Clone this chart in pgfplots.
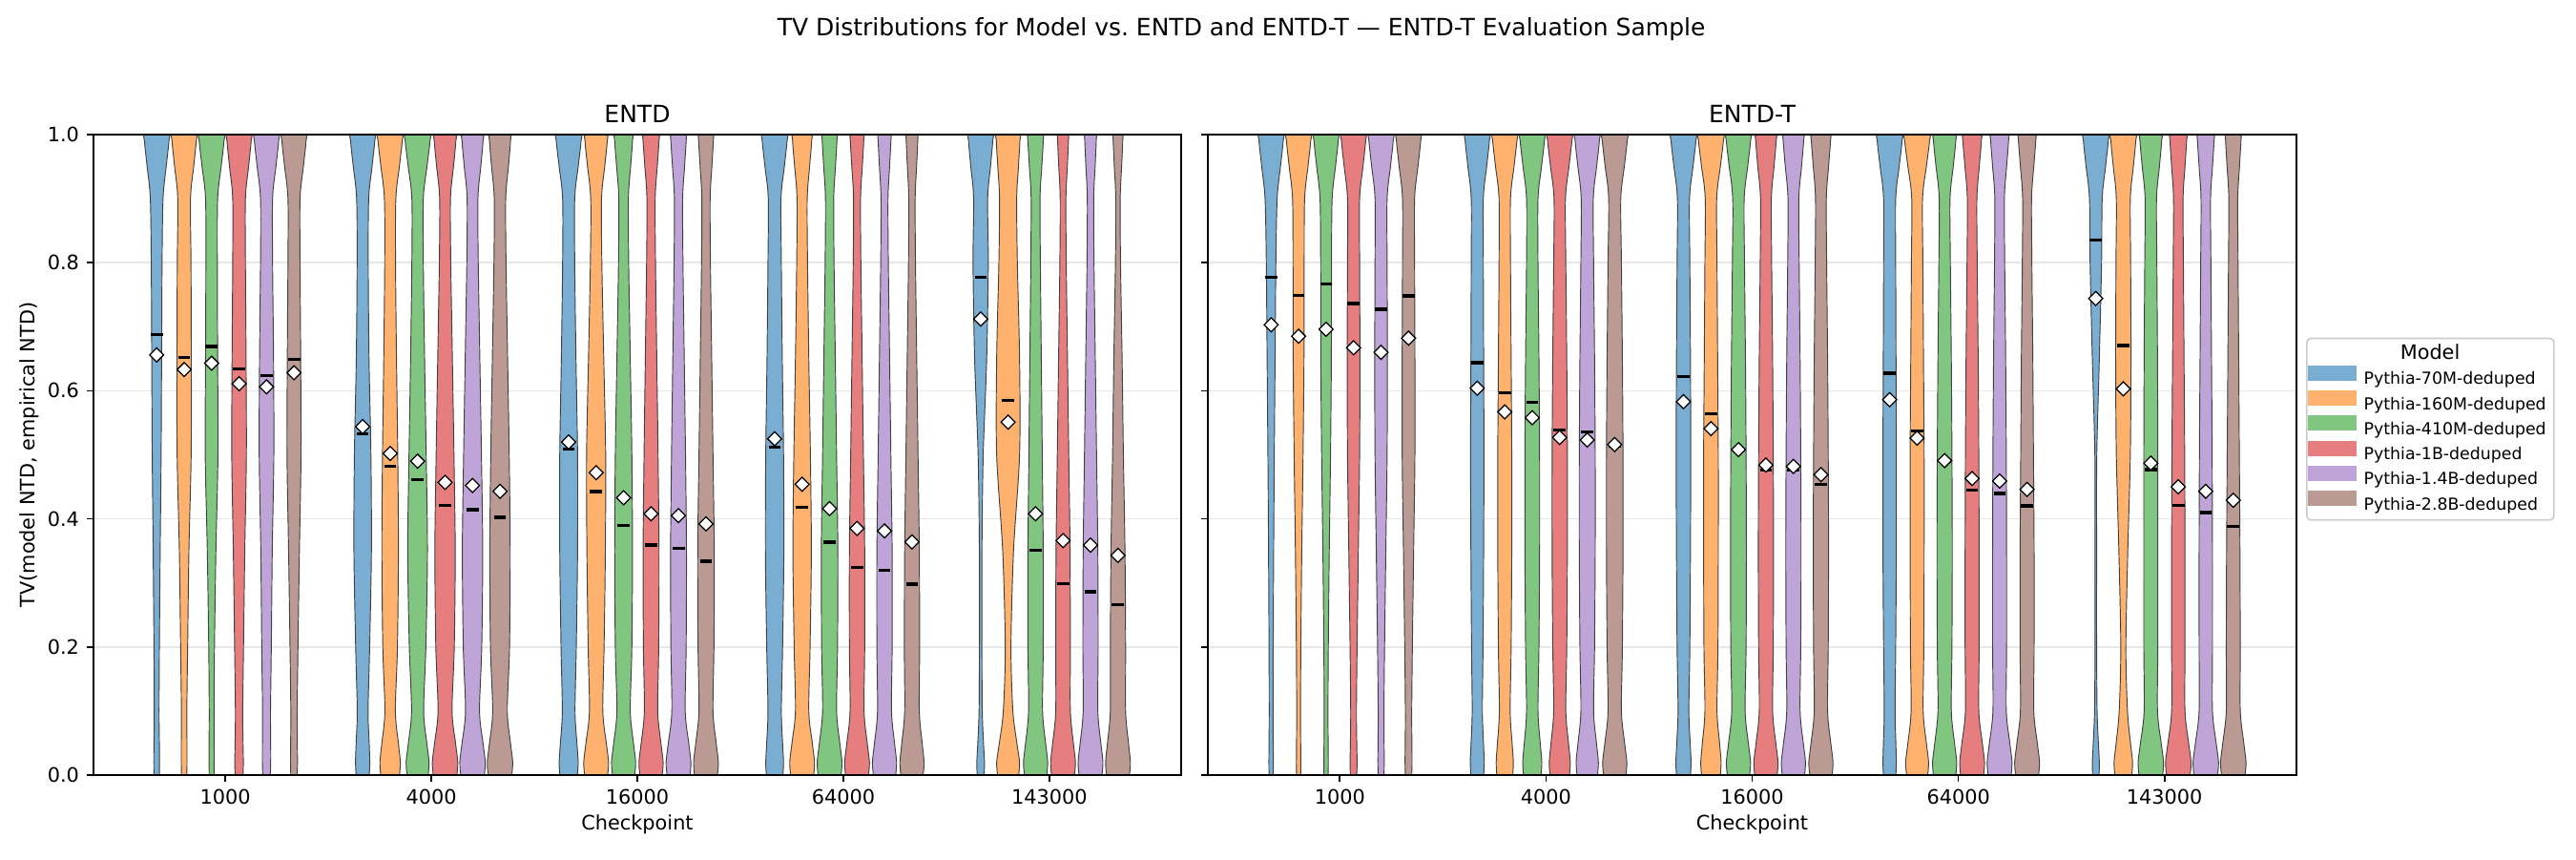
\documentclass[border=0pt]{standalone}
\usepackage{fontspec}
\setmainfont{DejaVu Sans}
\usepackage{pgfplots}
\pgfplotsset{compat=1.18}
\usepackage{pgfplotstable}

\definecolor{c0}{HTML}{1F77B4}
\definecolor{c1}{HTML}{FF7F0E}
\definecolor{c2}{HTML}{2CA02C}
\definecolor{c3}{HTML}{D62728}
\definecolor{c4}{HTML}{9467BD}
\definecolor{c5}{HTML}{8C564B}
\definecolor{gridgray}{RGB}{231,231,231}

% violin half-width scale (axis units per profile unit) and model spacing
\def\ws{0.000772}
\def\vsp{0.13333}

% violin outlines: width profile at level y; s = +1 right side (upwards),
% s = -1 left side (downwards). Columns a..e = checkpoints 1000 ... 143000,
% 1..6 = Pythia 70M ... 2.8B
\pgfplotstableread{
y    s  a1 a2 a3 a4 a5 a6  b1 b2 b3 b4 b5 b6  c1 c2 c3 c4 c5 c6  d1 d2 d3 d4 d5 d6  e1 e2 e3 e4 e5 e6
0     1 17 17 15 25 24 20  41 59 66 74 74 74  55 72 70 70 72 72  52 72 72 72 70 70  22 66 70 72 72 72
0.02  1 18 18 16 27 26 22  45 64 72 80 80 80  60 78 76 76 78 78  56 78 78 78 76 76  24 72 76 78 78 78
0.05  1 17 18 16 25 26 21  41 52 58 66 66 66  52 64 62 62 64 64  50 64 64 64 63 64  18 55 63 65 65 66
0.1   1 15 17 15 23 25 20  34 33 38 44 44 46  40 42 42 42 42 44  42 42 44 44 44 46  10 30 44 46 46 48
0.2   1 17 22 18 28 30 25  44 46 52 58 58 60  48 50 52 48 48 50  50 50 50 48 48 48   8 18 48 46 48 48
0.35  1 22 30 27 36 36 34  55 52 62 64 64 64  56 58 56 50 50 52  58 58 52 48 48 46   8 34 48 44 46 44
0.5   1 28 44 40 46 46 44  52 48 54 56 56 58  56 60 52 44 44 44  56 52 44 40 40 38  16 72 42 36 38 34
0.65  1 31 45 38 44 44 42  40 40 44 46 46 48  46 48 42 36 36 36  48 42 36 32 32 30  38 72 36 28 30 26
0.8   1 34 43 36 40 38 38  35 34 36 36 36 38  38 36 32 28 28 28  42 34 28 24 24 22  48 58 30 20 22 16
0.9   1 40 40 38 40 38 38  38 36 36 34 34 36  38 34 30 26 26 26  40 32 26 22 22 20  44 54 28 18 20 14
0.95  1 60 60 60 60 59 59  59 58 59 53 52 53  60 54 44 39 38 37  61 47 37 33 32 29  62 65 39 27 29 23
0.99  1 77 76 78 76 76 76  76 76 78 68 66 66  78 70 56 50 48 46  78 60 46 42 40 36  76 74 48 34 36 30
1     1 71 70 72 70 70 70  70 70 72 63 61 61  72 64 52 46 44 42  72 55 42 39 37 33  70 68 44 31 33 28
1    -1 71 70 72 70 70 70  70 70 72 63 61 61  72 64 52 46 44 42  72 55 42 39 37 33  70 68 44 31 33 28
0.99 -1 77 76 78 76 76 76  76 76 78 68 66 66  78 70 56 50 48 46  78 60 46 42 40 36  76 74 48 34 36 30
0.95 -1 60 60 60 60 59 59  59 58 59 53 52 53  60 54 44 39 38 37  61 47 37 33 32 29  62 65 39 27 29 23
0.9  -1 40 40 38 40 38 38  38 36 36 34 34 36  38 34 30 26 26 26  40 32 26 22 22 20  44 54 28 18 20 14
0.8  -1 34 43 36 40 38 38  35 34 36 36 36 38  38 36 32 28 28 28  42 34 28 24 24 22  48 58 30 20 22 16
0.65 -1 31 45 38 44 44 42  40 40 44 46 46 48  46 48 42 36 36 36  48 42 36 32 32 30  38 72 36 28 30 26
0.5  -1 28 44 40 46 46 44  52 48 54 56 56 58  56 60 52 44 44 44  56 52 44 40 40 38  16 72 42 36 38 34
0.35 -1 22 30 27 36 36 34  55 52 62 64 64 64  56 58 56 50 50 52  58 58 52 48 48 46   8 34 48 44 46 44
0.2  -1 17 22 18 28 30 25  44 46 52 58 58 60  48 50 52 48 48 50  50 50 50 48 48 48   8 18 48 46 48 48
0.1  -1 15 17 15 23 25 20  34 33 38 44 44 46  40 42 42 42 42 44  42 42 44 44 44 46  10 30 44 46 46 48
0.05 -1 17 18 16 25 26 21  41 52 58 66 66 66  52 64 62 62 64 64  50 64 64 64 63 64  18 55 63 65 65 66
0.02 -1 18 18 16 27 26 22  45 64 72 80 80 80  60 78 76 76 78 78  56 78 78 78 76 76  24 72 76 78 78 78
0    -1 17 17 15 25 24 20  41 59 66 74 74 74  55 72 70 70 72 72  52 72 72 72 70 70  22 66 70 72 72 72
}\entd

\pgfplotstableread{
y    s  a1 a2 a3 a4 a5 a6  b1 b2 b3 b4 b5 b6  c1 c2 c3 c4 c5 c6  d1 d2 d3 d4 d5 d6  e1 e2 e3 e4 e5 e6
0     1 13 13 13 20 18 20  40 50 55 61 64 70  44 59 70 70 70 70  39 66 70 72 72 72  20 53 74 74 74 74
0.02  1 14 14 14 22 20 22  44 54 60 66 70 76  48 64 76 76 76 76  42 72 76 78 78 78  22 58 80 80 80 80
0.05  1 13 13 13 20 19 21  39 46 50 55 58 62  42 54 62 62 62 62  39 58 62 64 64 64  16 45 65 65 65 66
0.1   1 12 12 12 18 18 20  32 34 36 38 40 42  34 38 42 42 42 42  34 38 42 42 42 42   8 26 42 42 42 44
0.2   1 13 14 14 22 22 24  36 40 42 44 46 48  40 44 48 46 46 46  38 42 46 44 44 44   5 16 44 42 42 44
0.35  1 16 20 20 30 30 32  40 44 46 48 50 52  44 46 50 48 48 48  42 44 48 44 44 44   5 28 44 42 42 42
0.5   1 20 28 28 38 38 40  42 44 46 48 50 52  46 46 48 46 46 46  42 44 46 42 42 40   6 44 44 40 40 38
0.65  1 25 34 33 40 40 40  40 40 42 44 46 48  44 42 44 42 42 42  40 40 42 38 38 36  22 48 42 36 36 34
0.8   1 30 35 34 38 38 38  38 36 36 38 40 42  40 38 38 36 36 36  38 36 36 32 32 30  36 46 38 32 32 30
0.9   1 38 38 38 38 38 38  38 36 36 36 38 38  38 36 36 34 34 34  38 34 34 30 30 28  40 44 36 30 30 28
0.95  1 59 59 59 59 59 59  59 58 58 58 59 60  60 59 58 51 51 48  60 58 54 45 44 42  61 63 54 42 42 39
0.99  1 76 76 76 76 76 76  76 76 76 76 76 78  78 78 76 64 64 60  78 78 70 58 56 54  78 78 68 52 52 48
1     1 70 70 70 70 70 70  70 70 70 70 70 72  72 72 70 59 59 55  72 72 64 53 52 50  72 72 63 48 48 44
1    -1 70 70 70 70 70 70  70 70 70 70 70 72  72 72 70 59 59 55  72 72 64 53 52 50  72 72 63 48 48 44
0.99 -1 76 76 76 76 76 76  76 76 76 76 76 78  78 78 76 64 64 60  78 78 70 58 56 54  78 78 68 52 52 48
0.95 -1 59 59 59 59 59 59  59 58 58 58 59 60  60 59 58 51 51 48  60 58 54 45 44 42  61 63 54 42 42 39
0.9  -1 38 38 38 38 38 38  38 36 36 36 38 38  38 36 36 34 34 34  38 34 34 30 30 28  40 44 36 30 30 28
0.8  -1 30 35 34 38 38 38  38 36 36 38 40 42  40 38 38 36 36 36  38 36 36 32 32 30  36 46 38 32 32 30
0.65 -1 25 34 33 40 40 40  40 40 42 44 46 48  44 42 44 42 42 42  40 40 42 38 38 36  22 48 42 36 36 34
0.5  -1 20 28 28 38 38 40  42 44 46 48 50 52  46 46 48 46 46 46  42 44 46 42 42 40   6 44 44 40 40 38
0.35 -1 16 20 20 30 30 32  40 44 46 48 50 52  44 46 50 48 48 48  42 44 48 44 44 44   5 28 44 42 42 42
0.2  -1 13 14 14 22 22 24  36 40 42 44 46 48  40 44 48 46 46 46  38 42 46 44 44 44   5 16 44 42 42 44
0.1  -1 12 12 12 18 18 20  32 34 36 38 40 42  34 38 42 42 42 42  34 38 42 42 42 42   8 26 42 42 42 44
0.05 -1 13 13 13 20 19 21  39 46 50 55 58 62  42 54 62 62 62 62  39 58 62 64 64 64  16 45 65 65 65 66
0.02 -1 14 14 14 22 20 22  44 54 60 66 70 76  48 64 76 76 76 76  42 72 76 78 78 78  22 58 80 80 80 80
0    -1 13 13 13 20 18 20  40 50 55 61 64 70  44 59 70 70 70 70  39 66 70 72 72 72  20 53 74 74 74 74
}\entdt

% medians and means: g = checkpoint index, k = model index
\pgfplotstableread{
g k med mean
0 0 0.688 0.656
0 1 0.652 0.633
0 2 0.669 0.643
0 3 0.634 0.611
0 4 0.624 0.606
0 5 0.649 0.628
1 0 0.533 0.544
1 1 0.482 0.502
1 2 0.461 0.490
1 3 0.421 0.457
1 4 0.414 0.452
1 5 0.402 0.443
2 0 0.509 0.520
2 1 0.443 0.472
2 2 0.390 0.433
2 3 0.359 0.408
2 4 0.354 0.405
2 5 0.334 0.392
3 0 0.512 0.525
3 1 0.418 0.454
3 2 0.364 0.416
3 3 0.324 0.385
3 4 0.320 0.381
3 5 0.298 0.364
4 0 0.777 0.712
4 1 0.585 0.551
4 2 0.351 0.408
4 3 0.299 0.366
4 4 0.286 0.359
4 5 0.266 0.343
}\entdstats

\pgfplotstableread{
g k med mean
0 0 0.777 0.703
0 1 0.749 0.685
0 2 0.767 0.696
0 3 0.736 0.667
0 4 0.727 0.660
0 5 0.748 0.682
1 0 0.644 0.604
1 1 0.597 0.567
1 2 0.582 0.558
1 3 0.539 0.527
1 4 0.536 0.523
1 5 0.514 0.516
2 0 0.622 0.583
2 1 0.564 0.541
2 2 0.507 0.508
2 3 0.476 0.484
2 4 0.476 0.482
2 5 0.454 0.469
3 0 0.627 0.586
3 1 0.537 0.526
3 2 0.490 0.491
3 3 0.445 0.463
3 4 0.440 0.459
3 5 0.420 0.446
4 0 0.835 0.744
4 1 0.671 0.603
4 2 0.477 0.487
4 3 0.421 0.450
4 4 0.410 0.443
4 5 0.388 0.429
}\entdtstats

\pgfplotsset{
  vbody/.style={draw=black!75, line width=0.45pt, smooth, forget plot},
  gridline/.style={gridgray, line width=0.8pt, forget plot},
  medianmark/.style={only marks, mark=-, mark size=3.05pt,
    mark options={line width=1.7pt, black}, forget plot},
  meanmark/.style={only marks, mark=square*, mark size=2.5pt,
    mark options={rotate=45, fill=white, draw=black, line width=0.6pt}, forget plot},
  patch legend/.style={legend image code/.code={%
    \path[##1, sharp corners] (0pt,-0.85pt) rectangle (24.5pt,6.85pt);}},
  vaxis/.style={
    axis on top,
    scale only axis, height=322.1pt, anchor=south west,
    xmin=-0.64, xmax=4.64, ymin=0, ymax=1,
    xtick={0,1,2,3,4}, xticklabels={1000,4000,16000,64000,143000},
    ytick={0,0.2,0.4,0.6,0.8,1.0},
    scaled y ticks=false,
    tick align=outside, major tick length=3.5pt,
    xtick pos=left, ytick pos=left,
    tick style={black, line width=0.8pt},
    axis line style={black, line width=0.8pt},
    /pgf/number format/assume math mode=true,
    tick label style={font=\fontsize{10}{12}\selectfont},
    xticklabel style={inner sep=0pt, anchor=north, yshift=-3.5pt},
    yticklabel style={inner sep=0pt, anchor=east, xshift=-3.5pt,
      /pgf/number format/fixed, /pgf/number format/fixed zerofill,
      /pgf/number format/precision=1},
    xlabel={Checkpoint},
    every axis x label/.style={at={(axis description cs:0.5,-0.0857)},
      anchor=base, font=\fontsize{10}{12}\selectfont},
    every axis y label/.style={at={(axis description cs:-0.0588,0.5)},
      rotate=90, anchor=center, font=\fontsize{10}{12}\selectfont},
    every axis title/.style={at={(axis description cs:0.5,1)},
      anchor=base, yshift=5.8pt, font=\fontsize{12}{14.4}\selectfont},
  },
}

% one violin: table, column, checkpoint index, model index, colour
\newcommand{\violin}[5]{%
  \addplot[vbody, fill=#5!60!white] table[x expr={#3+(#4-2.5)*\vsp+\thisrow{s}*\ws*\thisrow{#2}}, y=y]{#1};
}
% six violins of one checkpoint: table, column letter, checkpoint index
\newcommand{\violingroup}[3]{%
  \violin{#1}{#21}{#3}{0}{c0}%
  \violin{#1}{#22}{#3}{1}{c1}%
  \violin{#1}{#23}{#3}{2}{c2}%
  \violin{#1}{#24}{#3}{3}{c3}%
  \violin{#1}{#25}{#3}{4}{c4}%
  \violin{#1}{#26}{#3}{5}{c5}%
}
% horizontal grid lines behind the violins
\newcommand{\gridlines}{%
  \addplot[gridline] coordinates {(-1,0.2) (6,0.2)};
  \addplot[gridline] coordinates {(-1,0.4) (6,0.4)};
  \addplot[gridline] coordinates {(-1,0.6) (6,0.6)};
  \addplot[gridline] coordinates {(-1,0.8) (6,0.8)};
}

\begin{document}
\begin{tikzpicture}
\path[use as bounding box] (0,0) rectangle (1296pt,432pt);
\node[anchor=base, inner sep=0pt, font=\fontsize{12}{14.4}\selectfont] at (624.5pt,413.8pt)
  {TV Distributions for Model vs.\ ENTD and ENTD-T — ENTD-T Evaluation Sample};

\begin{axis}[vaxis, at={(47.04pt,42.24pt)}, width=547.2pt,
  title={ENTD}, ylabel={TV(model NTD, empirical NTD)}]
  \gridlines
  \violingroup{\entd}{a}{0}
  \violingroup{\entd}{b}{1}
  \violingroup{\entd}{c}{2}
  \violingroup{\entd}{d}{3}
  \violingroup{\entd}{e}{4}
  \addplot[medianmark] table[x expr={\thisrow{g}+(\thisrow{k}-2.5)*\vsp}, y=med]{\entdstats};
  \addplot[meanmark] table[x expr={\thisrow{g}+(\thisrow{k}-2.5)*\vsp}, y=mean]{\entdstats};
\end{axis}

\begin{axis}[vaxis, at={(607.68pt,42.24pt)}, width=547.7pt,
  title={ENTD-T}, yticklabels={},
  legend cell align=left,
  legend style={at={(1,0.54)}, anchor=west, xshift=4.8pt,
    draw=black!20, line width=0.8pt, rounded corners=2pt, fill=white,
    font=\fontsize{8.33}{10}\selectfont,
    inner xsep=0.5pt, inner ysep=3.3pt, row sep=1.2pt, column sep=3.7pt,
    nodes={inner sep=0pt, text height=7.3pt, text depth=1.8pt}}]
  \gridlines
  \violingroup{\entdt}{a}{0}
  \violingroup{\entdt}{b}{1}
  \violingroup{\entdt}{c}{2}
  \violingroup{\entdt}{d}{3}
  \violingroup{\entdt}{e}{4}
  \addplot[medianmark] table[x expr={\thisrow{g}+(\thisrow{k}-2.5)*\vsp}, y=med]{\entdtstats};
  \addplot[meanmark] table[x expr={\thisrow{g}+(\thisrow{k}-2.5)*\vsp}, y=mean]{\entdtstats};

  \addlegendimage{empty legend}
  \addlegendentry{\hspace*{33.3pt}\makebox[0pt][c]{\fontsize{10}{12}\selectfont Model}}
  \addlegendimage{patch legend, fill=c0!60!white, draw=none}
  \addlegendentry{Pythia-70M-deduped}
  \addlegendimage{patch legend, fill=c1!60!white, draw=none}
  \addlegendentry{Pythia-160M-deduped\hspace*{3.4pt}}
  \addlegendimage{patch legend, fill=c2!60!white, draw=none}
  \addlegendentry{Pythia-410M-deduped\hspace*{3.4pt}}
  \addlegendimage{patch legend, fill=c3!60!white, draw=none}
  \addlegendentry{Pythia-1B-deduped}
  \addlegendimage{patch legend, fill=c4!60!white, draw=none}
  \addlegendentry{Pythia-1.4B-deduped}
  \addlegendimage{patch legend, fill=c5!60!white, draw=none}
  \addlegendentry{Pythia-2.8B-deduped}
\end{axis}
\end{tikzpicture}
\end{document}
